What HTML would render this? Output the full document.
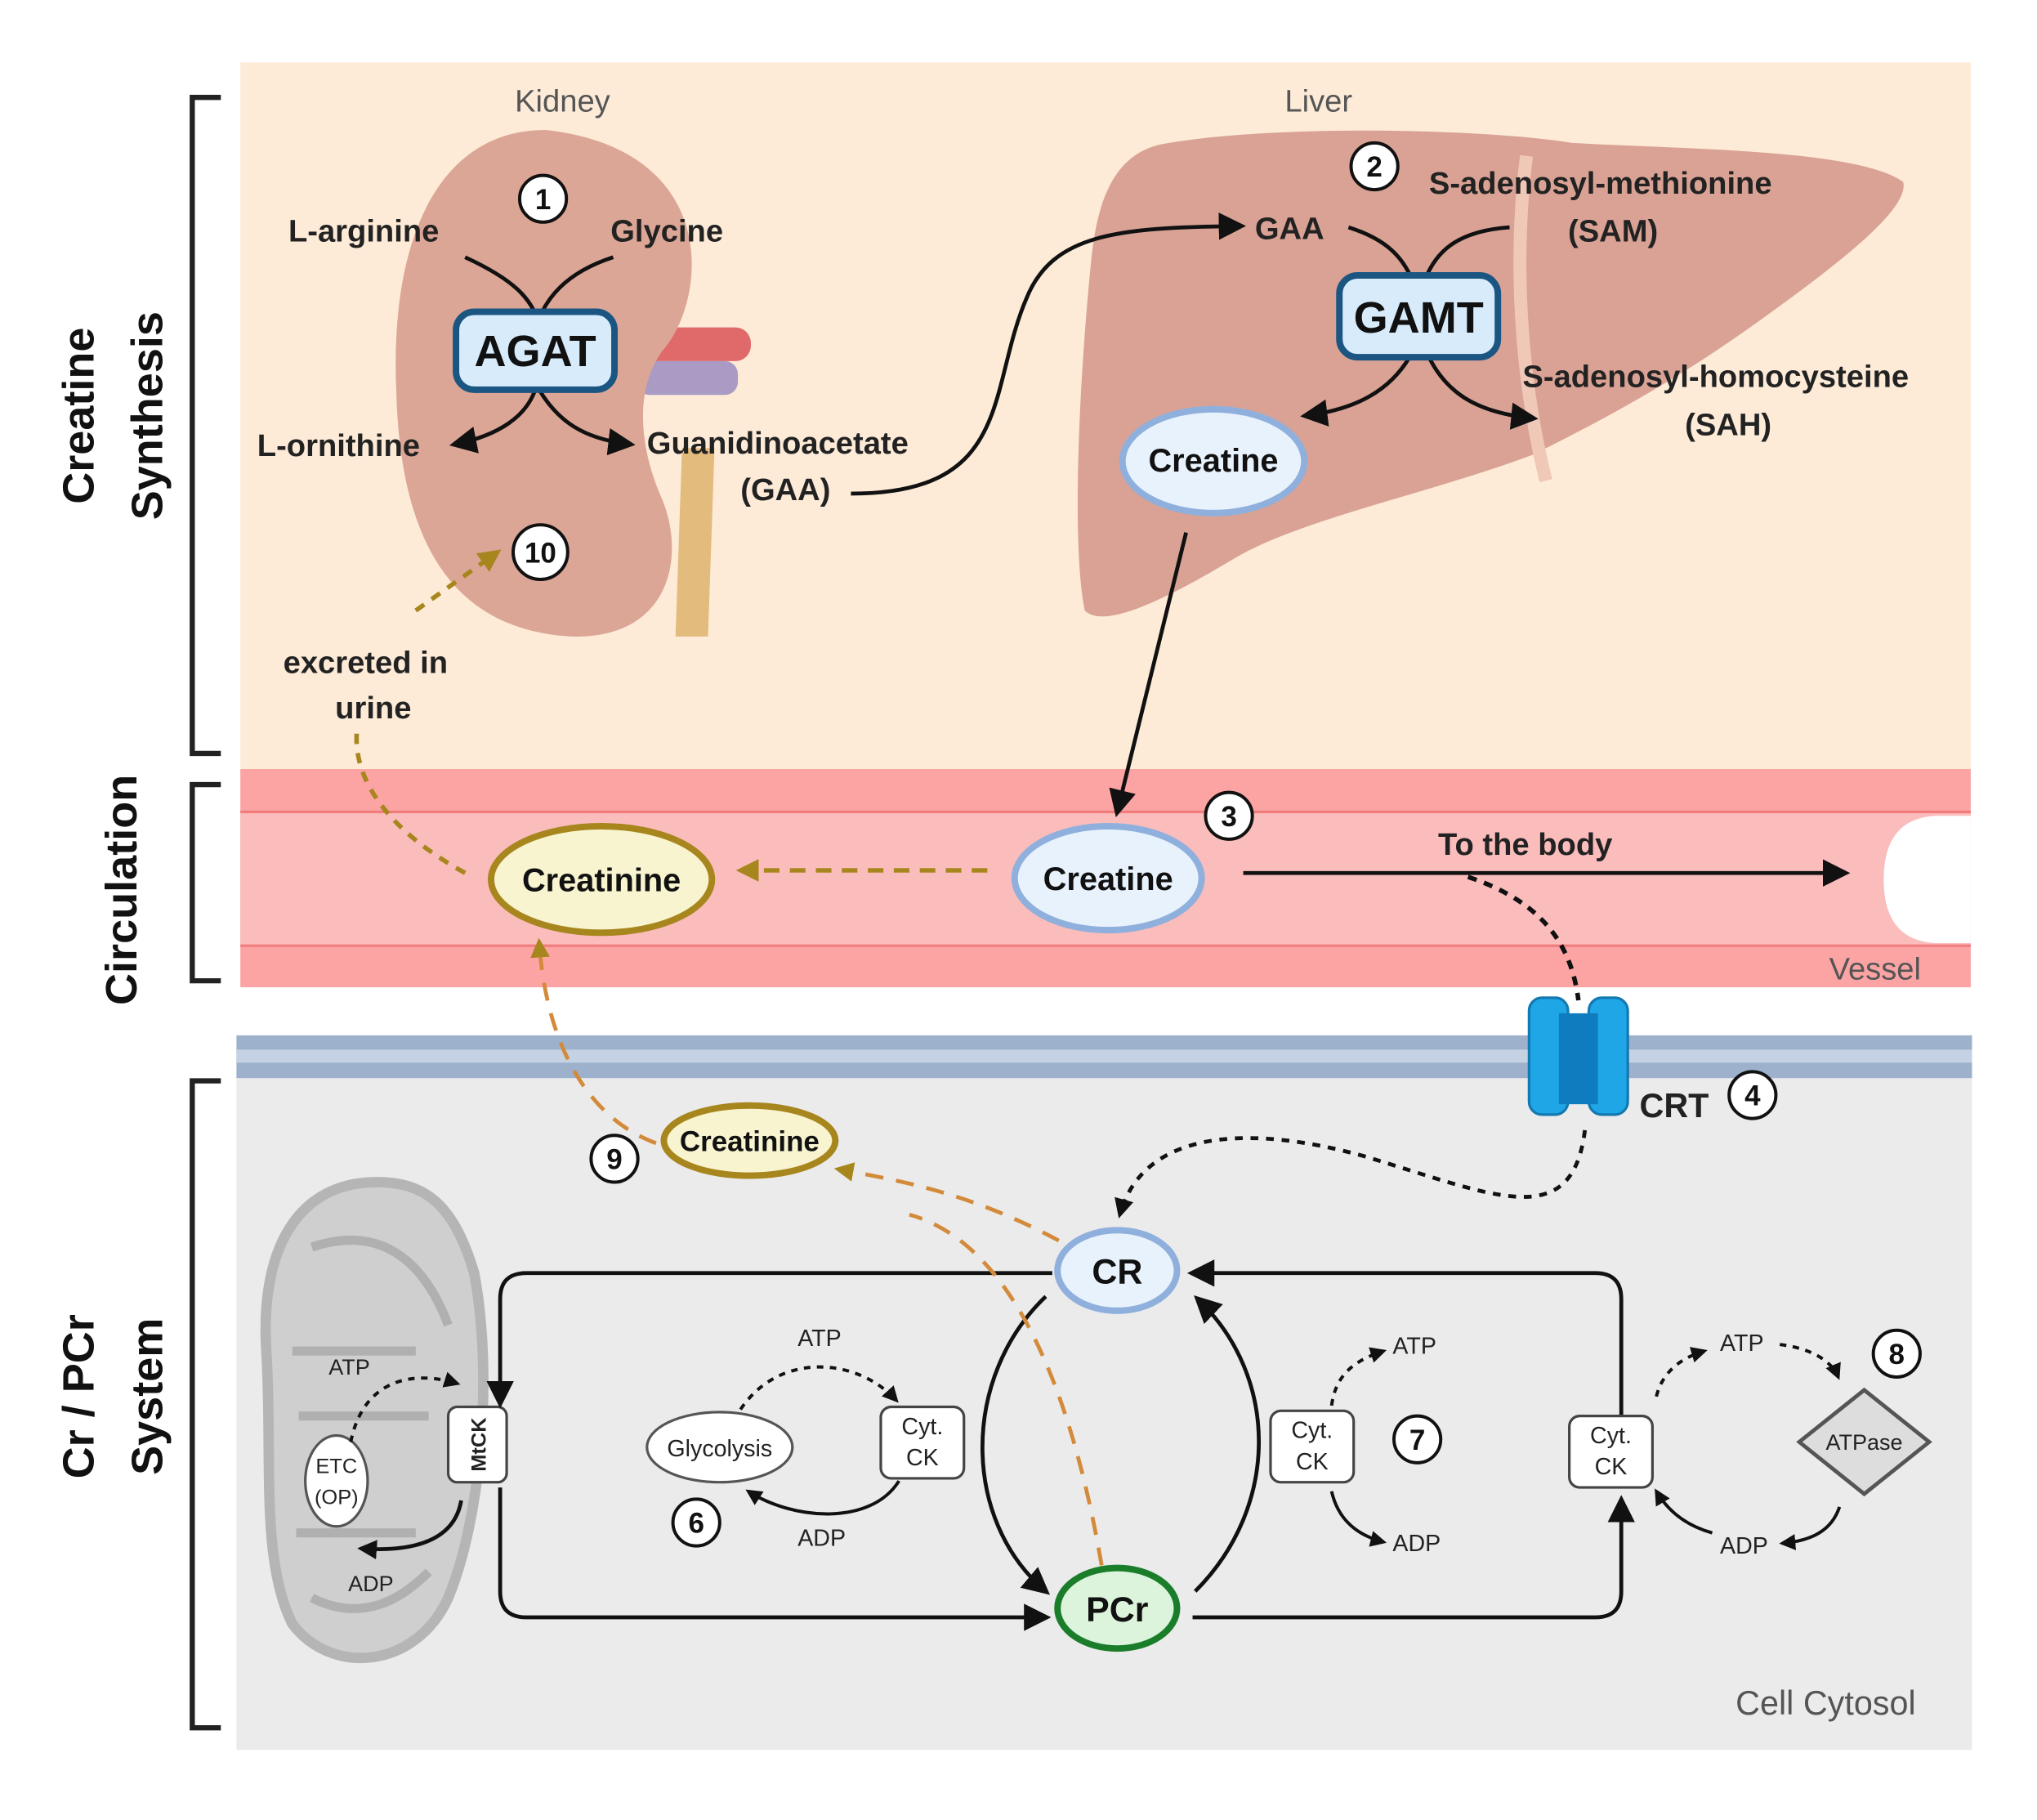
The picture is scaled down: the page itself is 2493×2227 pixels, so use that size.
<!DOCTYPE html>
<html><head><meta charset="utf-8"><style>
html,body{margin:0;padding:0;background:#fff}
svg{display:block}
text{font-family:"Liberation Sans",sans-serif}
</style></head><body>
<svg width="2493" height="2227" viewBox="0 0 1568 1401" preserveAspectRatio="none" xmlns="http://www.w3.org/2000/svg">
<defs>
<marker id="ab" viewBox="0 0 10 10" refX="8" refY="5" markerWidth="5" markerHeight="5" orient="auto"><path d="M0,0 L10,5 L0,10 z" fill="#111"/></marker>
<marker id="ao" viewBox="0 0 10 10" refX="8" refY="5" markerWidth="5" markerHeight="5" orient="auto"><path d="M0,0 L10,5 L0,10 z" fill="#a8861e"/></marker>
<marker id="as" viewBox="0 0 10 10" refX="8" refY="5" markerWidth="7" markerHeight="7" orient="auto"><path d="M0,0 L10,5 L0,10 z" fill="#111"/></marker>
</defs>
<rect x="185" y="48" width="1332" height="544" fill="#fdebd8"/>
<rect x="185" y="592" width="1332" height="168" fill="#fca3a3"/>
<rect x="185" y="625" width="1332" height="103" fill="#fbbcbc"/>
<line x1="185" y1="625" x2="1517" y2="625" stroke="#f07c7c" stroke-width="2"/>
<line x1="185" y1="728" x2="1517" y2="728" stroke="#f07c7c" stroke-width="2"/>
<path d="M1517,628 L1490,628 Q1450,630 1450,677 Q1450,724 1490,726 L1517,726 z" fill="#fff"/>
<rect x="182" y="797" width="1336" height="33" fill="#9db1cd"/>
<rect x="182" y="808" width="1336" height="10" fill="#c4d2e4"/>
<rect x="182" y="830" width="1336" height="517" fill="#ebebeb"/>
<g fill="none" stroke="#222" stroke-width="4">
<path d="M170,75 H148 V580 H170"/>
<path d="M170,604 H148 V755 H170"/>
<path d="M170,832 H148 V1330 H170"/>
</g>
<g font-weight="bold" font-size="34" fill="#111" text-anchor="middle">
<text transform="translate(72,320) rotate(-90)">Creatine</text>
<text transform="translate(125,320) rotate(-90)">Synthesis</text>
<text transform="translate(105,685) rotate(-90)">Circulation</text>
<text transform="translate(72,1075) rotate(-90)">Cr / PCr</text>
<text transform="translate(125,1075) rotate(-90)">System</text>
</g>
<!-- kidney -->
<path d="M525,345 L520,490 L545,490 L550,345 z" fill="#e3bb7c"/>
<rect x="490" y="252" width="88" height="26" rx="12" fill="#e06a6a"/>
<rect x="490" y="278" width="78" height="26" rx="10" fill="#a99bc4"/>
<path d="M420,100 C340,100 300,180 305,300 C308,420 350,485 440,490 C515,492 528,430 510,385 C492,345 488,300 510,270 C545,230 555,115 420,100 z" fill="#dca696"/>
<!-- liver -->
<path d="M900,110 C990,95 1150,100 1210,110 C1300,115 1430,115 1465,140 C1470,160 1420,200 1350,250 C1280,300 1220,330 1180,350 C1100,380 1000,400 950,430 C900,460 850,485 835,470 C825,420 830,300 840,200 C845,150 860,115 900,110 z" fill="#d9a294"/>
<path d="M1175,120 C1165,200 1170,290 1190,370" stroke="#efc8b8" stroke-width="10" fill="none"/>
<g font-size="24" fill="#555" text-anchor="middle"><text x="433" y="86">Kidney</text><text x="1015" y="86">Liver</text></g>
<g font-size="22" font-weight="bold" text-anchor="middle" fill="#111">
<g fill="#fff" stroke="#111" stroke-width="2.5">
<circle cx="418" cy="153" r="18"/><circle cx="1058" cy="128" r="18"/><circle cx="416" cy="425" r="21"/>
<circle cx="946" cy="628" r="18"/><circle cx="1349" cy="843" r="18"/><circle cx="473" cy="892" r="18"/>
<circle cx="304" cy="992" r="18"/><circle cx="536" cy="1172" r="18"/><circle cx="1091" cy="1108" r="18"/><circle cx="1460" cy="1042" r="18"/>
</g>
<text x="418" y="161">1</text><text x="1058" y="136">2</text><text x="416" y="433">10</text><text x="946" y="636">3</text><text x="1349" y="851">4</text>
<text x="473" y="900">9</text><text x="304" y="1000">5</text><text x="536" y="1180">6</text><text x="1091" y="1116">7</text><text x="1460" y="1050">8</text>
</g>
<g fill="none" stroke="#111" stroke-width="3">
<path d="M358,198 C395,215 410,230 415,250"/><path d="M472,198 C435,210 420,230 413,250"/>
<path d="M412,300 C405,320 385,335 350,342" marker-end="url(#as)"/>
<path d="M415,300 C430,325 450,338 485,342" marker-end="url(#as)"/>
</g>
<rect x="351" y="240" width="122" height="60" rx="14" fill="#d7ebfb" stroke="#1b5582" stroke-width="5"/>
<text x="412" y="282" font-size="34" font-weight="bold" text-anchor="middle" fill="#111">AGAT</text>
<g font-size="24" font-weight="bold" fill="#222">
<text x="222" y="186">L-arginine</text><text x="470" y="186">Glycine</text>
<text x="198" y="351">L-ornithine</text><text x="498" y="349">Guanidinoacetate</text><text x="570" y="385">(GAA)</text>
<text x="218" y="518">excreted in</text><text x="258" y="553">urine</text>
</g>
<path d="M655,380 C780,380 760,300 790,230 C810,180 860,175 955,174" fill="none" stroke="#111" stroke-width="3" marker-end="url(#as)"/>
<g fill="none" stroke="#111" stroke-width="3">
<path d="M1038,175 C1070,185 1080,200 1087,215"/><path d="M1162,175 C1120,178 1105,195 1097,215"/>
<path d="M1085,275 C1070,300 1045,315 1005,320" marker-end="url(#as)"/>
<path d="M1100,275 C1115,305 1140,318 1180,322" marker-end="url(#as)"/>
</g>
<rect x="1031" y="212" width="122" height="63" rx="14" fill="#d7ebfb" stroke="#1b5582" stroke-width="5"/>
<text x="1092" y="256" font-size="34" font-weight="bold" text-anchor="middle" fill="#111">GAMT</text>
<g font-size="24" font-weight="bold" fill="#222">
<text x="966" y="184">GAA</text><text x="1100" y="149">S-adenosyl-methionine</text><text x="1207" y="186">(SAM)</text>
<text x="1172" y="298">S-adenosyl-homocysteine</text><text x="1297" y="335">(SAH)</text>
</g>
<ellipse cx="934" cy="355" rx="70" ry="40" fill="#e8f2fc" stroke="#8fb0dc" stroke-width="5"/>
<text x="934" y="363" font-size="25" font-weight="bold" text-anchor="middle" fill="#111">Creatine</text>
<path d="M913,410 L860,625" stroke="#111" stroke-width="3" marker-end="url(#as)"/>
<ellipse cx="853" cy="676" rx="72" ry="40" fill="#e8f2fc" stroke="#8fb0dc" stroke-width="5"/>
<text x="853" y="685" font-size="25" font-weight="bold" text-anchor="middle" fill="#111">Creatine</text>
<ellipse cx="463" cy="677" rx="85" ry="41" fill="#f8f4d0" stroke="#a8861e" stroke-width="5"/>
<text x="463" y="686" font-size="25" font-weight="bold" text-anchor="middle" fill="#111">Creatinine</text>
<path d="M760,670 L570,670" stroke="#a8861e" stroke-width="3.5" stroke-dasharray="12,8" fill="none" marker-end="url(#ao)"/>
<path d="M358,672 C300,640 270,600 275,560" stroke="#a8861e" stroke-width="3.5" stroke-dasharray="8,7" fill="none"/>
<path d="M320,470 L383,425" stroke="#a8861e" stroke-width="3.5" stroke-dasharray="8,7" fill="none" marker-end="url(#ao)"/>
<path d="M957,672 L1420,672" stroke="#111" stroke-width="3" marker-end="url(#as)"/>
<text x="1107" y="658" font-size="24" font-weight="bold" fill="#222">To the body</text>
<text x="1408" y="754" font-size="24" fill="#555">Vessel</text>
<path d="M1130,675 C1190,695 1210,730 1215,770" stroke="#111" stroke-width="3.5" stroke-dasharray="7,6" fill="none"/>
<rect x="1177" y="768" width="30" height="90" rx="10" fill="#1ea6e6" stroke="#1478b0" stroke-width="2"/>
<rect x="1223" y="768" width="30" height="90" rx="10" fill="#1ea6e6" stroke="#1478b0" stroke-width="2"/>
<rect x="1200" y="780" width="30" height="70" fill="#0f7cc0"/>
<text x="1262" y="860" font-size="26" font-weight="bold" fill="#222">CRT</text>
<path d="M1220,870 C1210,950 1150,920 1050,890 C960,865 880,870 862,935" stroke="#111" stroke-width="3" stroke-dasharray="6,6" fill="none" marker-end="url(#ab)"/>
<path d="M290,910 C230,910 200,960 205,1040 C210,1120 200,1200 225,1250 C255,1290 320,1285 345,1230 C370,1170 380,1060 365,980 C350,930 330,910 290,910 z" fill="#cfcfcf" stroke="#b5b5b5" stroke-width="8"/>
<path d="M240,960 C300,940 330,980 345,1020 M225,1040 H320 M230,1090 H330 M228,1180 H320 M240,1230 C280,1250 310,1230 330,1210" stroke="#b0b0b0" stroke-width="7" fill="none"/>
<ellipse cx="259" cy="1140" rx="24" ry="35" fill="#fff" stroke="#555" stroke-width="2"/>
<text x="259" y="1134" font-size="16" text-anchor="middle" fill="#222">ETC</text><text x="259" y="1158" font-size="16" text-anchor="middle" fill="#222">(OP)</text>
<rect x="345" y="1083" width="45" height="58" rx="7" fill="#fff" stroke="#444" stroke-width="2"/>
<text transform="translate(374,1112) rotate(-90)" font-size="16" font-weight="bold" text-anchor="middle" fill="#222">MtCK</text>
<path d="M270,1110 C280,1060 320,1055 352,1065" stroke="#111" stroke-width="2.5" stroke-dasharray="5,5" fill="none" marker-end="url(#ab)"/>
<path d="M355,1155 C350,1185 320,1195 278,1192" stroke="#111" stroke-width="3" fill="none" marker-end="url(#ab)"/>
<g font-size="17" fill="#222"><text x="253" y="1058">ATP</text><text x="268" y="1225">ADP</text></g>
<ellipse cx="860" cy="978" rx="46" ry="31" fill="#e8f2fc" stroke="#8fb0dc" stroke-width="5"/>
<text x="860" y="988" font-size="27" font-weight="bold" text-anchor="middle" fill="#111">CR</text>
<ellipse cx="860" cy="1238" rx="46" ry="31" fill="#dcf4dc" stroke="#1a7d2a" stroke-width="5"/>
<text x="860" y="1248" font-size="27" font-weight="bold" text-anchor="middle" fill="#111">PCr</text>
<g fill="none" stroke="#111" stroke-width="3">
<path d="M810,980 H405 Q385,980 385,1000 V1080" marker-end="url(#as)"/>
<path d="M385,1145 V1225 Q385,1245 405,1245 H805" marker-end="url(#as)"/>
<path d="M918,1245 H1228 Q1248,1245 1248,1225 V1155" marker-end="url(#as)"/>
<path d="M1248,1090 V1000 Q1248,980 1228,980 H918" marker-end="url(#as)"/>
<path d="M805,998 C740,1060 740,1170 805,1225" marker-end="url(#as)"/>
<path d="M920,1225 C985,1160 985,1060 922,1000" marker-end="url(#as)"/>
</g>
<path d="M848,1205 C830,1100 790,960 700,935" stroke="#d38a3a" stroke-width="3" stroke-dasharray="14,10" fill="none"/>
<path d="M815,955 C750,920 700,910 645,900" stroke="#d38a3a" stroke-width="3" stroke-dasharray="14,10" fill="none" marker-end="url(#ao)"/>
<path d="M505,880 C450,860 420,800 415,725" stroke="#d38a3a" stroke-width="3" stroke-dasharray="14,10" fill="none" marker-end="url(#ao)"/>
<ellipse cx="577" cy="878" rx="66" ry="27" fill="#f8f4d0" stroke="#a8861e" stroke-width="5"/>
<text x="577" y="886" font-size="22" font-weight="bold" text-anchor="middle" fill="#111">Creatinine</text>
<ellipse cx="554" cy="1114" rx="56" ry="27" fill="#fff" stroke="#555" stroke-width="2"/>
<text x="554" y="1121" font-size="18" text-anchor="middle" fill="#222">Glycolysis</text>
<rect x="678" y="1083" width="64" height="55" rx="8" fill="#fff" stroke="#444" stroke-width="2"/>
<text x="710" y="1104" font-size="18" text-anchor="middle" fill="#222">Cyt.</text><text x="710" y="1128" font-size="18" text-anchor="middle" fill="#222">CK</text>
<path d="M570,1085 C600,1040 660,1045 690,1078" stroke="#111" stroke-width="2.5" stroke-dasharray="5,5" fill="none" marker-end="url(#ab)"/>
<path d="M692,1140 C670,1175 610,1170 576,1148" stroke="#111" stroke-width="2.5" fill="none" marker-end="url(#ab)"/>
<g font-size="18" fill="#222"><text x="614" y="1036">ATP</text><text x="614" y="1190">ADP</text></g>
<rect x="978" y="1086" width="64" height="55" rx="8" fill="#fff" stroke="#444" stroke-width="2"/>
<text x="1010" y="1107" font-size="18" text-anchor="middle" fill="#222">Cyt.</text><text x="1010" y="1131" font-size="18" text-anchor="middle" fill="#222">CK</text>
<path d="M1025,1082 C1028,1060 1040,1048 1065,1040" stroke="#111" stroke-width="2.5" stroke-dasharray="5,5" fill="none" marker-end="url(#ab)"/>
<path d="M1025,1148 C1030,1170 1045,1182 1065,1187" stroke="#111" stroke-width="2.5" fill="none" marker-end="url(#ab)"/>
<g font-size="18" fill="#222"><text x="1072" y="1042">ATP</text><text x="1072" y="1194">ADP</text></g>
<rect x="1208" y="1090" width="64" height="55" rx="8" fill="#fff" stroke="#444" stroke-width="2"/>
<text x="1240" y="1111" font-size="18" text-anchor="middle" fill="#222">Cyt.</text><text x="1240" y="1135" font-size="18" text-anchor="middle" fill="#222">CK</text>
<path d="M1275,1075 C1280,1055 1295,1045 1312,1040" stroke="#111" stroke-width="2.5" stroke-dasharray="5,5" fill="none" marker-end="url(#ab)"/>
<path d="M1370,1035 C1395,1038 1410,1048 1415,1060" stroke="#111" stroke-width="2.5" stroke-dasharray="5,5" fill="none" marker-end="url(#ab)"/>
<path d="M1416,1160 C1410,1178 1395,1186 1372,1188" stroke="#111" stroke-width="2.5" fill="none" marker-end="url(#ab)"/>
<path d="M1318,1180 C1300,1175 1285,1165 1275,1148" stroke="#111" stroke-width="2.5" fill="none" marker-end="url(#ab)"/>
<g font-size="18" fill="#222"><text x="1324" y="1040">ATP</text><text x="1324" y="1196">ADP</text></g>
<path d="M1435,1070 L1485,1110 L1435,1150 L1385,1110 z" fill="#ddd" stroke="#555" stroke-width="3"/>
<text x="1435" y="1116" font-size="17" text-anchor="middle" fill="#222">ATPase</text>
<text x="1336" y="1320" font-size="26" fill="#555">Cell Cytosol</text>
</svg>
</body></html>
